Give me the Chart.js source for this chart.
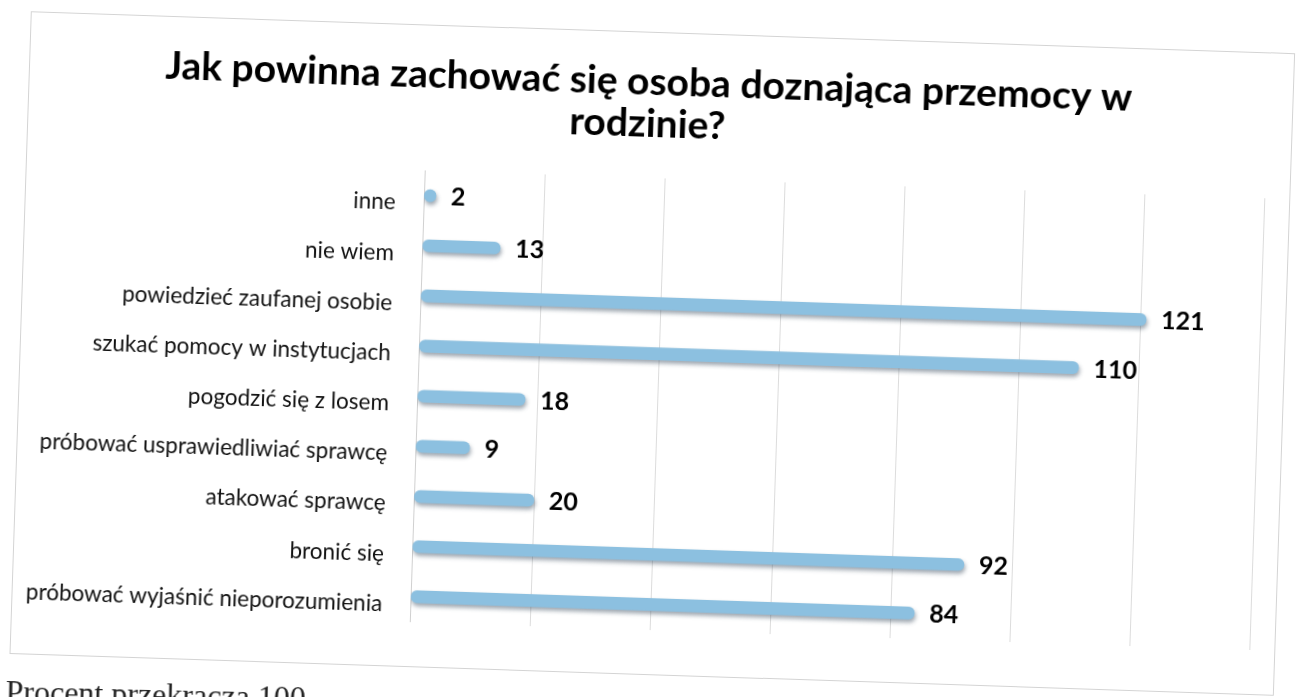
<!DOCTYPE html>
<html lang="pl">
<head>
<meta charset="utf-8">
<script src="https://cdn.jsdelivr.net/npm/chart.js@4.4.1/dist/chart.umd.min.js"></script>
<style>
  html, body { margin: 0; padding: 0; background: #ffffff; overflow: hidden; width: 1303px; height: 697px; }
  #frame {
    position: absolute; left: 20px; top: 32px; width: 1263px; height: 641px;
    border: 1px solid #d4d4d4; background: #ffffff;
    transform: rotate(1.9deg); transform-origin: 631px 316px;
  }
  #wrap {
    position: absolute; left: 21px; top: 36px; width: 1262px; height: 635px;
    transform: rotate(1.9deg); transform-origin: 630px 312px;
  }
  #caption {
    position: absolute; left: 6px; top: 673px; font-family: "Liberation Serif", "DejaVu Serif", serif;
    font-size: 32px; color: #222; white-space: nowrap;
    transform: rotate(1.2deg); transform-origin: 0 0;
  }
</style>
</head>
<body>
<div id="frame"></div>
<div id="wrap"><canvas id="c" width="1262" height="635"></canvas></div>
<div id="caption">Procent przekracza 100</div>
<script>
const titleLines = ['Jak powinna zachować się osoba doznająca przemocy w', 'rodzinie?'];
const categories = [
  'inne',
  'nie wiem',
  'powiedzieć zaufanej osobie',
  'szukać pomocy w instytucjach',
  'pogodzić się z losem',
  'próbować usprawiedliwiać sprawcę',
  'atakować sprawcę',
  'bronić się',
  'próbować wyjaśnić nieporozumienia'
];
const values = [2, 13, 121, 110, 18, 9, 20, 92, 84];
const axisMin = 0;
const axisMax = 140;
const axisStep = 20;

const shadowPlugin = {
  id: 'barShadow',
  beforeDatasetsDraw(chart) {
    const ctx = chart.ctx;
    ctx.save();
    ctx.shadowColor = 'rgba(40,60,80,0.45)';
    ctx.shadowBlur = 4;
    ctx.shadowOffsetX = 1;
    ctx.shadowOffsetY = 3;
  },
  afterDatasetsDraw(chart) {
    const ctx = chart.ctx;
    ctx.restore();
    const meta = chart.getDatasetMeta(0);
    ctx.save();
    ctx.font = 'bold 25px Lato, "Open Sans", sans-serif';
    ctx.fillStyle = '#000000';
    ctx.textAlign = 'left';
    ctx.textBaseline = 'middle';
    meta.data.forEach((bar, i) => {
      ctx.fillText(String(values[i]), bar.x + 15, bar.y + 1);
    });
    ctx.restore();
  }
};

new Chart(document.getElementById('c'), {
  type: 'bar',
  data: {
    labels: categories,
    datasets: [{
      data: values,
      backgroundColor: (c) => {
        const el = c.element;
        const chart = c.chart;
        if (!el || el.y === undefined) return '#8cc0e0';
        const g = chart.ctx.createLinearGradient(0, el.y - 6, 0, el.y + 6);
        g.addColorStop(0, '#a9d4ef');
        g.addColorStop(0.5, '#8cc2e4');
        g.addColorStop(1, '#6da6cf');
        return g;
      },
      borderWidth: 0,
      borderRadius: 6,
      borderSkipped: false,
      barThickness: 12
    }]
  },
  options: {
    indexAxis: 'y',
    responsive: false,
    animation: false,
    layout: { padding: { left: 0, right: 24, top: 0, bottom: 32 } },
    plugins: {
      legend: { display: false },
      tooltip: { enabled: false },
      title: {
        display: true,
        text: titleLines,
        color: '#000000',
        font: { family: 'Lato, "Open Sans", sans-serif', size: 39, weight: 'bold', lineHeight: 42 / 39 },
        padding: { top: 25, bottom: 33 }
      }
    },
    scales: {
      x: {
        min: axisMin,
        max: axisMax,
        ticks: { display: false, stepSize: axisStep },
        grid: { color: '#dcdcdc', lineWidth: 1, drawTicks: false },
        border: { display: false },
        afterFit(scale) { scale.height = 0; }
      },
      y: {
        ticks: {
          color: '#111111',
          font: { family: 'Lato, "Open Sans", sans-serif', size: 22.5 },
          padding: 28,
          labelOffset: 8
        },
        grid: { display: false, drawTicks: false },
        border: { display: true, color: '#d0d0d0', width: 1 },
        afterFit(scale) { scale.width = 398; }
      }
    }
  },
  plugins: [shadowPlugin]
});
</script>
</body>
</html>
